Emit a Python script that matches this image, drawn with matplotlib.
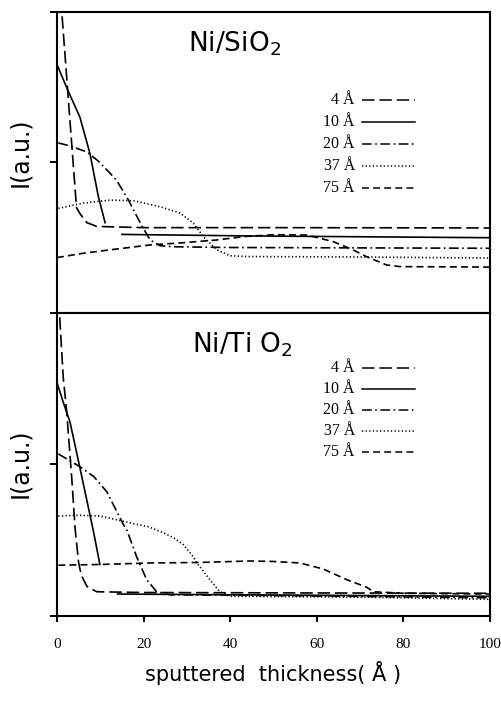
import numpy as np
import matplotlib
matplotlib.use("Agg")
import matplotlib.pyplot as plt

nan = np.nan

# thickness labels
labels = ['4 Å', '10 Å', '20 Å', '37 Å', '75 Å']

# Ni/SiO2 profiles (x = sputtered thickness, y = intensity a.u.)
si_4_x = [0.5, 1.1, 4.5, 5.3, 6.9, 9.2, 20, 50, 100]
si_4_y = [2.23, 2.0, 0.70, 0.66, 0.60, 0.575, 0.567, 0.567, 0.565]
si_10_x = [0, 2.5, 5.3, 7.6, 9.5, 11.1, nan, 15, 44, 100]
si_10_y = [1.65, 1.48, 1.30, 1.06, 0.78, 0.60, nan, 0.522, 0.512, 0.50]
si_20_x = [0.3, 3, 6.9, 9.5, 12.2, 13.8, 16.5, 19.2, 21.5, 23.8, 26.8, 40, 100]
si_20_y = [1.13, 1.11, 1.07, 1.01, 0.93, 0.88, 0.75, 0.60, 0.485, 0.447, 0.44, 0.435, 0.43]
si_37_x = [0.3, 6.1, 12.2, 17.6, 23.8, 28.4, 31.5, 33.8, 36.9, 40, 44, 70, 100]
si_37_y = [0.695, 0.73, 0.75, 0.746, 0.706, 0.664, 0.596, 0.507, 0.42, 0.38, 0.375, 0.372, 0.365]
si_75_x = [0, 6.1, 13.8, 21.5, 29.2, 36.9, 43, 50, 57.7, 63.8, 68.4, 71.5, 76.1, 79.2, 100]
si_75_y = [0.368, 0.397, 0.425, 0.452, 0.467, 0.485, 0.507, 0.52, 0.518, 0.474, 0.419, 0.374, 0.319, 0.308, 0.305]

# Ni/TiO2 profiles
ti_4_x = [0.4, 0.7, 1.45, 2.2, 3.4, 4.2, 5.0, 5.6, 6.9, 9.2, 20, 60, 100]
ti_4_y = [2.2, 1.93, 1.57, 1.36, 0.91, 0.57, 0.35, 0.27, 0.195, 0.16, 0.155, 0.152, 0.15]
ti_10_x = [0, 1.45, 3.0, 5.5, 8.4, 9.9, nan, 14, 40, 100]
ti_10_y = [1.54, 1.41, 1.28, 0.95, 0.56, 0.34, nan, 0.145, 0.14, 0.13]
ti_20_x = [0.3, 5.3, 8.5, 11.5, 15.3, 16.1, 18.4, 20.7, 23.0, 26.1, 50, 100]
ti_20_y = [1.07, 0.985, 0.92, 0.82, 0.605, 0.57, 0.39, 0.24, 0.16, 0.14, 0.135, 0.12]
ti_37_x = [0.3, 5, 9.9, 17.6, 21, 24.5, 27, 29.2, 31.5, 32.3, 35.3, 37.6, 40, 70, 100]
ti_37_y = [0.66, 0.665, 0.66, 0.61, 0.59, 0.55, 0.515, 0.47, 0.39, 0.35, 0.24, 0.16, 0.13, 0.125, 0.11]
ti_75_x = [0.3, 9.9, 21.5, 32.3, 44.6, 49.9, 56.1, 61.5, 66.9, 71.5, 73.1, 80, 100]
ti_75_y = [0.335, 0.34, 0.35, 0.353, 0.363, 0.36, 0.35, 0.31, 0.24, 0.19, 0.16, 0.15, 0.145]

xticks = [0, 20, 40, 60, 80, 100]

plt.rcParams['lines.scale_dashes'] = False
styles = ['long', 'solid', 'dashdot', 'dot', 'short']
dash = {
    'long': (0, (9, 3.5)),
    'solid': '-',
    'dashdot': (0, (7, 2.5, 1.2, 2.5)),
    'dot': (0, (0.9, 1.7)),
    'short': (0, (5, 3)),
}

fig = plt.figure(figsize=(5.01, 7.10), dpi=100)
ax1 = fig.add_axes([0.1138, 0.5592, 0.8643, 0.4239])
ax2 = fig.add_axes([0.1138, 0.1324, 0.8643, 0.4268])

panels = [
    (ax1, [(si_4_x, si_4_y), (si_10_x, si_10_y), (si_20_x, si_20_y), (si_37_x, si_37_y), (si_75_x, si_75_y)],
     'Ni/SiO$_2$', 0.411, [0.708, 0.634, 0.561, 0.488, 0.415], 0.535),
    (ax2, [(ti_4_x, ti_4_y), (ti_10_x, ti_10_y), (ti_20_x, ti_20_y), (ti_37_x, ti_37_y), (ti_75_x, ti_75_y)],
     'Ni/Ti O$_2$', 0.428, [0.818, 0.749, 0.680, 0.611, 0.541], 0.505),
]

for ax, curves, title, tx, leg_y, ylab_y in panels:
    for (x, y), st in zip(curves, styles):
        ax.plot(x, y, color='black', linestyle=dash[st], linewidth=1.2)
    ax.set_xlim(0, 100)
    ax.set_ylim(0, 2)
    ax.set_yticks([0, 1, 2])
    ax.set_yticklabels([])
    ax.tick_params(axis='y', direction='out', length=5, width=1.4)
    for sp in ax.spines.values():
        sp.set_linewidth(1.5)
    ax.text(tx, 0.868, title, transform=ax.transAxes, ha='center', va='baseline',
            fontsize=19, family='DejaVu Sans')
    # hand-made legend: label then line sample
    for lab, st, ly in zip(labels, styles, leg_y):
        ax.text(0.688, ly, lab, transform=ax.transAxes, ha='right', va='center',
                fontsize=11.5, family='Liberation Serif')
        ax.plot([0.704, 0.827], [ly, ly], transform=ax.transAxes, color='black',
                linestyle=dash[st], linewidth=1.1)
    ax.text(-0.085, ylab_y, 'I(a.u.)', transform=ax.transAxes, rotation=90,
            ha='center', va='center', fontsize=17, family='DejaVu Sans')

ax1.set_xticks([])
ax2.set_xticks(xticks)
ax2.set_xticklabels([str(t) for t in xticks], family='Liberation Serif', fontsize=11)
ax2.tick_params(axis='x', direction='out', length=4, width=1.4, pad=12)

fig.text(0.546, 0.052, 'sputtered  thickness( Å )', ha='center', va='center',
         fontsize=15, family='DejaVu Sans')

fig.savefig('out.png', dpi=100)
